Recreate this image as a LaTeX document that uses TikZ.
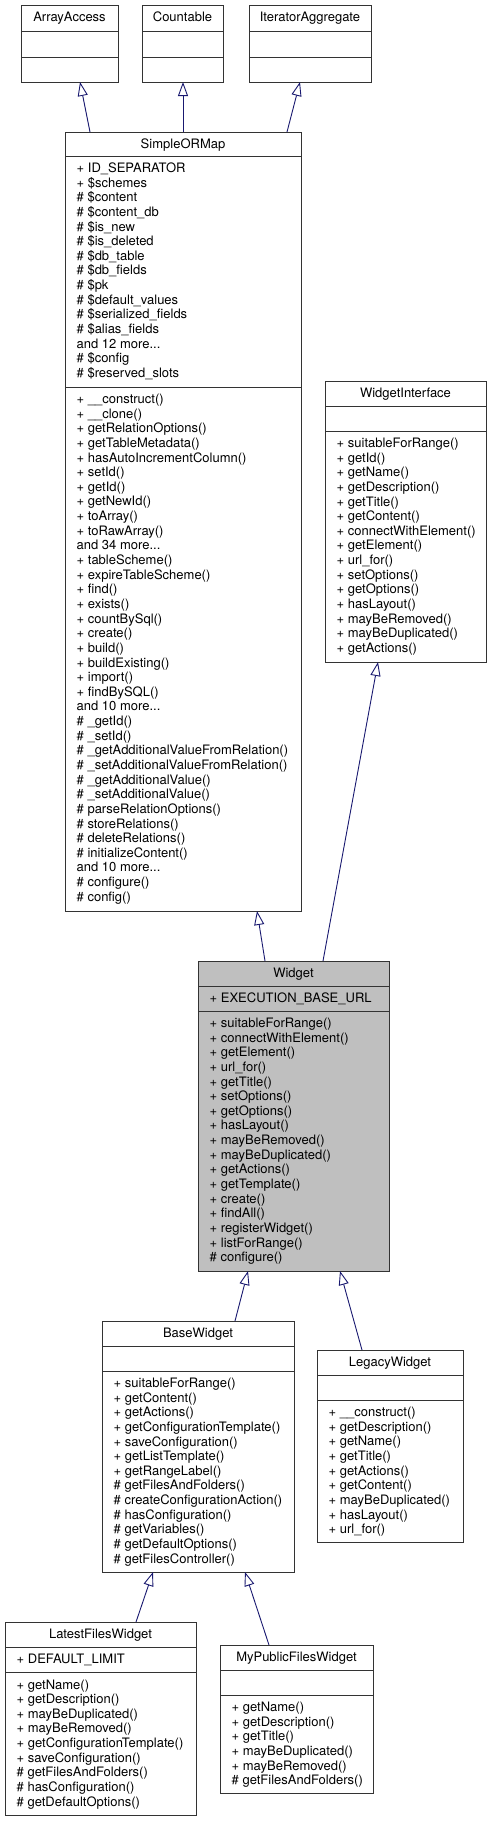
\documentclass[tikz,border=0pt]{standalone}
\usepackage{fontspec}
\setmainfont{TeX Gyre Heros}
\usetikzlibrary{arrows.meta}
\definecolor{edgeblue}{HTML}{191970}
\definecolor{boxline}{HTML}{333333}
\definecolor{hilite}{HTML}{BFBFBF}
\newcommand\moredots{...}
\tikzset{
 cls/.style={draw=boxline, line width=1pt, fill=white, inner sep=0pt, outer sep=0pt},
 clsfill/.style={cls, fill=hilite},
 divider/.style={draw=boxline, line width=1pt},
 ln/.style={inner sep=0pt, font=\fontsize{13}{15}\selectfont, anchor=base west},
 ttl/.style={inner sep=0pt, font=\fontsize{13}{15}\selectfont, anchor=base},
 inh/.style={draw=edgeblue, line width=0.9pt, -{Triangle[open, length=14pt, width=10pt]}},
}
\newcommand\umlclass[9]{%
 \node[#1, anchor=north west, minimum width={(#4-#3)*1pt}, minimum height={(#6-#5)*1pt}] (#2) at (#3,#5) {};
 \node[ttl] (#2-title) at ({(#3+#4)/2}, #5+16.5) {#7};
 \draw[divider] (#3,#8) -- (#4,#8);
 \draw[divider] (#3,#9) -- (#4,#9);
}
\newcommand\umllines[4]{%
 \foreach \t [count=\i from 0] in {#4} {\node[ln] (#1-\i) at (#2+11.5, #3+16.5+\i*14.64) {\t};}
}
\begin{document}
\begin{tikzpicture}[x=1pt,y=-1pt]
\fill[white] (0,0) rectangle (493,1821);
\useasboundingbox (0,0) rectangle (493,1821);

% top interfaces
\umlclass{cls}{aa}{21}{118}{5}{82}{ArrayAccess}{31}{57}
\umlclass{cls}{ct}{142}{223}{5}{82}{Countable}{31}{57}
\umlclass{cls}{ia}{249}{371}{5}{82}{IteratorAggregate}{31}{57}

% SimpleORMap
\umlclass{cls}{som}{65}{301}{132}{911}{SimpleORMap}{156}{387}
\umllines{soma}{65}{156}{+ ID\_SEPARATOR, + \$schemes, \# \$content, \# \$content\_db, \# \$is\_new, \# \$is\_deleted, \# \$db\_table, \# \$db\_fields, \# \$pk, \# \$default\_values, \# \$serialized\_fields, \# \$alias\_fields, and 12 more\moredots, \# \$config, \# \$reserved\_slots}
\umllines{somm}{65}{387}{+ \_\_construct(), + \_\_clone(), + getRelationOptions(), + getTableMetadata(), + hasAutoIncrementColumn(), + setId(), + getId(), + getNewId(), + toArray(), + toRawArray(), and 34 more\moredots, + tableScheme(), + expireTableScheme(), + find(), + exists(), + countBySql(), + create(), + build(), + buildExisting(), + import(), + findBySQL(), and 10 more\moredots, \# \_getId(), \# \_setId(), \# \_getAdditionalValueFromRelation(), \# \_setAdditionalValueFromRelation(), \# \_getAdditionalValue(), \# \_setAdditionalValue(), \# parseRelationOptions(), \# storeRelations(), \# deleteRelations(), \# initializeContent(), and 10 more\moredots, \# configure(), \# config()}

% WidgetInterface
\umlclass{cls}{wi}{325}{486}{381}{662}{WidgetInterface}{406}{431}
\umllines{wim}{325}{431}{+ suitableForRange(), + getId(), + getName(), + getDescription(), + getTitle(), + getContent(), + connectWithElement(), + getElement(), + url\_for(), + setOptions(), + getOptions(), + hasLayout(), + mayBeRemoved(), + mayBeDuplicated(), + getActions()}

% Widget
\umlclass{clsfill}{w}{198}{389}{961}{1271}{Widget}{986}{1011}
\umllines{wa}{198}{986}{+ EXECUTION\_BASE\_URL}
\umllines{wm}{198}{1011}{+ suitableForRange(), + connectWithElement(), + getElement(), + url\_for(), + getTitle(), + setOptions(), + getOptions(), + hasLayout(), + mayBeRemoved(), + mayBeDuplicated(), + getActions(), + getTemplate(), + create(), + findAll(), + registerWidget(), + listForRange(), \# configure()}

% BaseWidget
\umlclass{cls}{bw}{102}{294}{1321}{1572}{BaseWidget}{1346}{1371}
\umllines{bwm}{102}{1371}{+ suitableForRange(), + getContent(), + getActions(), + getConfigurationTemplate(), + saveConfiguration(), + getListTemplate(), + getRangeLabel(), \# getFilesAndFolders(), \# createConfigurationAction(), \# hasConfiguration(), \# getVariables(), \# getDefaultOptions(), \# getFilesController()}

% LegacyWidget
\umlclass{cls}{lw}{317}{463}{1350}{1542}{LegacyWidget}{1375}{1400}
\umllines{lwm}{317}{1400}{+ \_\_construct(), + getDescription(), + getName(), + getTitle(), + getActions(), + getContent(), + mayBeDuplicated(), + hasLayout(), + url\_for()}

% LatestFilesWidget
\umlclass{cls}{lf}{5}{196}{1622}{1815}{LatestFilesWidget}{1647}{1672.5}
\umllines{lfa}{5}{1647}{+ DEFAULT\_LIMIT}
\umllines{lfm}{5}{1672.5}{+ getName(), + getDescription(), + mayBeDuplicated(), + mayBeRemoved(), + getConfigurationTemplate(), + saveConfiguration(), \# getFilesAndFolders(), \# hasConfiguration(), \# getDefaultOptions()}

% MyPublicFilesWidget
\umlclass{cls}{mp}{220}{373}{1645}{1793}{MyPublicFilesWidget}{1670}{1695}
\umllines{mpm}{220}{1695}{+ getName(), + getDescription(), + getTitle(), + mayBeDuplicated(), + mayBeRemoved(), \# getFilesAndFolders()}

% inheritance edges
\draw[inh] ([xshift=25pt]som.north west) -- ([xshift=59pt]aa.south west);
\draw[inh] ([xshift=118pt]som.north west) -- ([xshift=41pt]ct.south west);
\draw[inh] ([xshift=222pt]som.north west) -- ([xshift=51pt]ia.south west);
\draw[inh] ([xshift=67pt]w.north west) -- ([xshift=192pt]som.south west);
\draw[inh] ([xshift=125pt]w.north west) -- ([xshift=53pt]wi.south west);
\draw[inh] ([xshift=133pt]bw.north west) -- ([xshift=50pt]w.south west);
\draw[inh] ([xshift=45pt]lw.north west) -- ([xshift=142pt]w.south west);
\draw[inh] ([xshift=131pt]lf.north west) -- ([xshift=51pt]bw.south west);
\draw[inh] ([xshift=49pt]mp.north west) -- ([xshift=143pt]bw.south west);
\end{tikzpicture}
\end{document}
